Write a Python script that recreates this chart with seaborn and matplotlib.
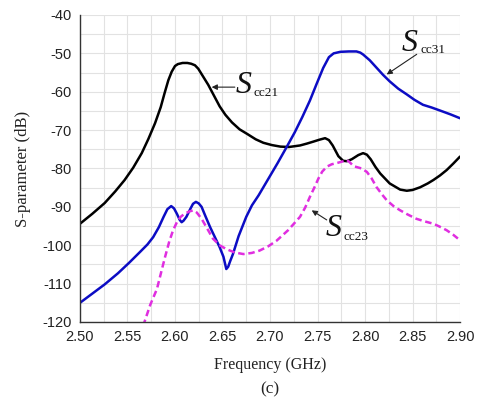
import numpy as np
import pandas as pd
import matplotlib
matplotlib.use("Agg")
import matplotlib.pyplot as plt
from matplotlib.ticker import MultipleLocator
import seaborn as sns

# ---- data ----
f21 = [2.500, 2.513, 2.526, 2.537, 2.547, 2.556, 2.565, 2.572, 2.579, 2.585, 2.589, 2.593,
       2.5965, 2.600, 2.603, 2.608, 2.613, 2.617, 2.621, 2.6245, 2.629, 2.635, 2.641, 2.647,
       2.653, 2.660, 2.668, 2.676, 2.685, 2.693, 2.702, 2.711, 2.720, 2.7316, 2.739, 2.7456,
       2.752, 2.758, 2.762, 2.766, 2.772, 2.777, 2.781, 2.786, 2.793, 2.798, 2.802, 2.806,
       2.811, 2.816, 2.826, 2.837, 2.844, 2.850, 2.858, 2.866, 2.872, 2.879, 2.886, 2.893,
       2.900]
s21 = [-94.4, -91.8, -89.0, -86.0, -83.0, -79.8, -76.0, -72.3, -68.2, -64.0, -60.4, -57.0,
       -54.8, -53.3, -52.8, -52.5, -52.5, -52.7, -53.1, -54.0, -55.8, -58.2, -61.0, -63.8,
       -66.0, -68.0, -69.8, -71.0, -72.4, -73.3, -73.9, -74.3, -74.4, -74.0, -73.5, -73.0,
       -72.5, -72.1, -72.6, -74.0, -76.8, -78.0, -78.1, -77.6, -76.5, -76.0, -76.4, -77.6,
       -79.6, -81.3, -83.9, -85.5, -85.8, -85.6, -84.9, -83.9, -83.0, -81.8, -80.4, -78.7,
       -76.9]

f31 = [2.500, 2.513, 2.526, 2.540, 2.552, 2.563, 2.571, 2.577, 2.583, 2.588, 2.592, 2.596,
       2.599, 2.602, 2.605, 2.607, 2.609, 2.612, 2.616, 2.619, 2.622, 2.625, 2.628, 2.632,
       2.637, 2.642, 2.647, 2.651, 2.654, 2.656, 2.658, 2.661, 2.667, 2.675, 2.681, 2.688,
       2.698, 2.708, 2.718, 2.726, 2.734, 2.742, 2.749, 2.756, 2.762, 2.767, 2.774, 2.783,
       2.791, 2.795, 2.798, 2.805, 2.812, 2.819, 2.826, 2.835, 2.844, 2.852, 2.861, 2.870,
       2.879, 2.890, 2.900]
s31 = [-115.0, -112.6, -110.2, -107.3, -104.5, -101.8, -99.8, -97.9, -95.3, -92.6, -90.6, -89.8,
       -90.4, -91.8, -93.4, -94.0, -93.6, -92.6, -90.6, -89.2, -88.7, -89.1, -90.0, -92.4,
       -95.3, -97.9, -100.5, -103.0, -106.2, -105.6, -104.2, -102.3, -97.6, -92.6, -89.6, -87.0,
       -82.8, -78.6, -74.2, -70.6, -66.6, -62.3, -58.0, -53.8, -51.0, -50.0, -49.6, -49.5,
       -49.5, -49.8, -50.3, -51.8, -53.7, -55.6, -57.3, -59.2, -60.7, -62.1, -63.4, -64.1,
       -64.9, -65.9, -66.9]

f23 = [2.5665, 2.574, 2.581, 2.586, 2.5895, 2.594, 2.598, 2.602, 2.606, 2.610, 2.615, 2.6193,
       2.623, 2.628, 2.634, 2.640, 2.647, 2.654, 2.663, 2.672, 2.681, 2.689, 2.698, 2.707,
       2.719, 2.7316, 2.737, 2.742, 2.747, 2.751, 2.755, 2.760, 2.765, 2.770, 2.776, 2.781,
       2.784, 2.788, 2.7965, 2.802, 2.807, 2.812, 2.818, 2.823, 2.830, 2.837, 2.845, 2.854,
       2.863, 2.872, 2.879, 2.886, 2.893, 2.900]
s23 = [-121.0, -115.5, -111.4, -106.5, -103.1, -99.0, -96.1, -94.0, -92.6, -91.8, -91.2, -90.9,
       -91.5, -93.1, -95.7, -98.3, -100.0, -101.0, -101.9, -102.3, -102.0, -101.4, -100.3, -98.8,
       -96.1, -92.6, -90.2, -87.4, -84.8, -82.6, -80.8, -79.5, -78.9, -78.6, -78.2, -77.8,
       -78.4, -79.4, -80.0, -80.9, -82.6, -84.8, -86.8, -88.3, -89.8, -90.9, -92.0, -93.1,
       -93.8, -94.4, -95.2, -96.1, -97.3, -98.7]

x_ticks = [2.50, 2.55, 2.60, 2.65, 2.70, 2.75, 2.80, 2.85, 2.90]
y_ticks = [-120, -110, -100, -90, -80, -70, -60, -50, -40]

df = pd.concat([
    pd.DataFrame({"f": f21, "s": s21, "curve": "Scc21"}),
    pd.DataFrame({"f": f31, "s": s31, "curve": "Scc31"}),
    pd.DataFrame({"f": f23, "s": s23, "curve": "Scc23"}),
])

sns.set_style("white")
serif = ["Liberation Serif", "DejaVu Serif"]
sans = ["Liberation Sans", "DejaVu Sans"]

fig = plt.figure(figsize=(4.83, 4.04), dpi=100)
ax = fig.add_axes([0.1656, 0.203, 0.7868, 0.7599])

palette = {"Scc21": "#000000", "Scc31": "#0c0cc4", "Scc23": "#e02ee0"}
dashes = {"Scc21": "", "Scc31": "", "Scc23": (2.6, 1.5)}
sns.lineplot(data=df, x="f", y="s", hue="curve", style="curve", palette=palette,
             dashes=dashes, linewidth=1.8, sort=False, estimator=None, legend=False, ax=ax)

ax.set_xlim(2.50, 2.90)
ax.set_ylim(-120, -40)
ax.set_xticks(x_ticks)
ax.set_yticks(y_ticks)
ax.set_xticklabels([f"{v:.2f}" for v in x_ticks], fontfamily=sans, fontsize=10.5)
ax.set_yticklabels([f"{v:d}" for v in y_ticks], fontfamily=sans, fontsize=10.5)
ax.xaxis.set_minor_locator(MultipleLocator(0.025))
ax.yaxis.set_minor_locator(MultipleLocator(5))
ax.tick_params(which="major", direction="out", length=4, width=1, color="#333333", pad=2,
               labelcolor="#222222")
ax.tick_params(which="minor", direction="in", length=3, width=1, color="#333333")
ax.grid(True, which="both", color="#e2e2e2", linewidth=0.8)
ax.set_axisbelow(True)
for side in ["top", "right"]:
    ax.spines[side].set_visible(False)
for side in ["left", "bottom"]:
    ax.spines[side].set_color("#333333")
    ax.spines[side].set_linewidth(1.0)

ax.set_xlabel("Frequency (GHz)", fontfamily=serif, fontsize=11.5, labelpad=9, color="#222222")
ax.set_ylabel("S-parameter (dB)", fontfamily=serif, fontsize=12, labelpad=8, color="#222222")
fig.text(0.559, 0.035, "(c)", fontfamily=serif, fontsize=12.5, ha="center", va="center",
         color="#222222")


def label(sx, sy, sub_x, sub_y, sub, tail, tip):
    ax.annotate("", xy=tip, xytext=tail,
                arrowprops=dict(arrowstyle="-|>", color="#222222", lw=0.8,
                                mutation_scale=8, shrinkA=0, shrinkB=0))
    ax.text(sx, sy, "S", fontfamily=serif, style="italic", fontsize=23,
            ha="left", va="baseline", color="#111111")
    ax.text(sub_x, sub_y, sub, fontfamily=serif, fontsize=9.5,
            ha="left", va="baseline", color="#111111")


label(2.664, -60.2, 2.6825, -61.0, "cc21", (2.663, -58.8), (2.6386, -58.8))
label(2.839, -49.4, 2.858, -49.9, "cc31", (2.8544, -50.25), (2.8228, -55.5))
label(2.759, -97.7, 2.777, -98.6, "cc23", (2.7597, -93.4), (2.7439, -90.9))

fig.savefig("out.png", dpi=100)
